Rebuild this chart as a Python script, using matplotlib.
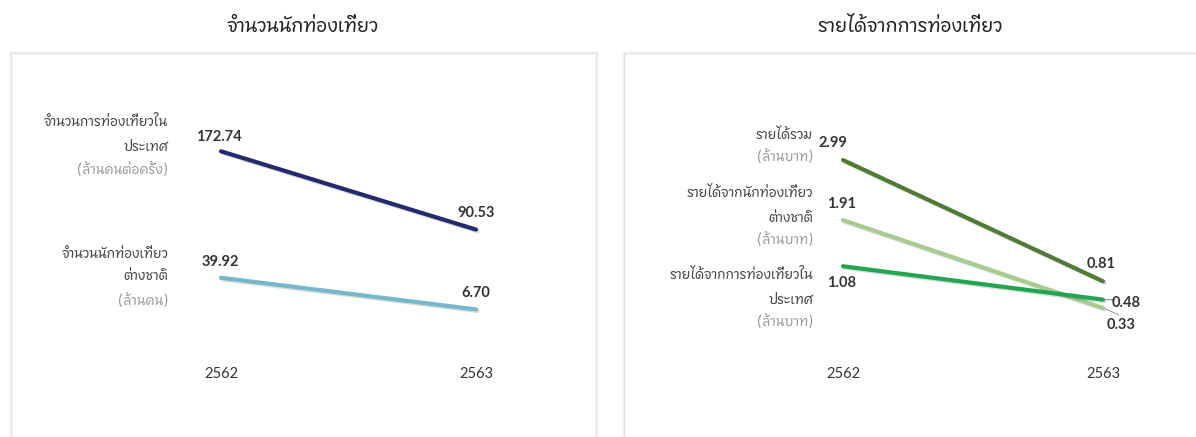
import matplotlib
matplotlib.use("Agg")
import matplotlib.pyplot as plt
from matplotlib import font_manager
from matplotlib.ft2font import FT2Font
from matplotlib.patches import Rectangle
import matplotlib.patheffects as pe

# ---------------- data ----------------
years = ["2562", "2563"]

left_title = "จำนวนนักท่องเที่ยว"
left_series = [
    ["จำนวนการท่องเที่ยวใน", "ประเทศ"],
    ["จำนวนนักท่องเที่ยว", "ต่างชาติ"],
]
left_units = ["(ล้านคนต่อครั้ง)", "(ล้านคน)"]
left_values = [[172.74, 90.53], [39.92, 6.70]]
left_colors = ["#232b6e", "#78b6cd"]

right_title = "รายได้จากการท่องเที่ยว"
right_series = [
    ["รายได้รวม"],
    ["รายได้จากนักท่องเที่ยว", "ต่างชาติ"],
    ["รายได้จากการท่องเที่ยวใน", "ประเทศ"],
]
right_units = ["(ล้านบาท)", "(ล้านบาท)", "(ล้านบาท)"]
right_values = [[2.99, 0.81], [1.91, 0.33], [1.08, 0.48]]
right_colors = ["#4f7c35", "#a8cc8f", "#22a552"]


# ---------------- fonts ----------------
def find_thai_font():
    cands = []
    for f in font_manager.fontManager.ttflist:
        try:
            cm = FT2Font(f.fname).get_charmap()
        except Exception:
            continue
        if 0x0E08 in cm and 0x0E33 in cm and 0x0E48 in cm:
            score = 0
            if "sans" in f.name.lower():
                score += 2
            if f.style == "normal":
                score += 1
            cands.append((score, f.name))
    if cands:
        cands.sort(reverse=True)
        return cands[0][1]
    return None


thai = find_thai_font()
FAM = [thai, "DejaVu Sans"] if thai else ["DejaVu Sans"]
plt.rcParams["font.family"] = FAM
NUMFAM = ["Lato", "DejaVu Sans"]

W, H = 1196, 437
DPI = 100
fig = plt.figure(figsize=(W / DPI, H / DPI), dpi=DPI)
fig.patch.set_facecolor("white")


def fx(px):
    return px / W


def fy(py):
    return 1 - py / H


def add_box(x0, x1, y0, y1):
    # soft shadow
    for i, a in enumerate([0.035, 0.02]):
        d = i + 1
        fig.patches.append(Rectangle((fx(x0 - d), fy(y1)), fx(x1 - x0 + 2 * d), (y1 - y0 + d) / H,
                                     transform=fig.transFigure, facecolor="none",
                                     edgecolor=(0, 0, 0, a), linewidth=1.0, zorder=-3))
    fig.patches.append(Rectangle((fx(x0), fy(y1)), fx(x1 - x0), (y1 - y0) / H,
                                 transform=fig.transFigure, facecolor="white",
                                 edgecolor="#e2e2e2", linewidth=1.0, zorder=-2))


add_box(11, 596, 53, 460)
add_box(624, 1230, 53, 460)

fig.text(fx(303), fy(27), left_title, ha="center", va="center", fontsize=13.5,
         fontweight="semibold", color="#222222")
fig.text(fx(910), fy(27), right_title, ha="center", va="center", fontsize=13.5,
         fontweight="semibold", color="#222222")


def make_axes(x0, x1, y0, y1, xpos0, xpos1, ya, yb):
    ax = fig.add_axes([fx(x0), fy(y1), fx(x1 - x0), (y1 - y0) / H])
    ax.set_zorder(2)
    ax.patch.set_visible(False)
    span = xpos1 - xpos0
    ax.set_xlim((x0 - xpos0) / span, (x1 - xpos0) / span)
    # y_px = ya - yb * v
    ax.set_ylim((ya - y1) / yb, (ya - y0) / yb)
    for s in ax.spines.values():
        s.set_visible(False)
    ax.set_yticks([])
    ax.set_xticks([0, 1])
    ax.set_xticklabels(years, fontsize=10.5, color="#333333", family=NUMFAM)
    ax.tick_params(axis="x", length=0, pad=5)
    return ax


shadow = [pe.SimpleLineShadow(offset=(1.2, -1.2), alpha=0.2, shadow_color="#555555"), pe.Normal()]


def draw(ax, values, colors, series, units, num_offsets, lab_x, lab_offsets):
    for i, (vals, c) in enumerate(zip(values, colors)):
        ax.plot([0, 1], vals, color=c, lw=3.0, solid_capstyle="round", path_effects=shadow, zorder=3)
        for j in range(2):
            dx, dy = num_offsets[i][j]
            ax.annotate(f"{vals[j]:.2f}", xy=(j, vals[j]), xytext=(dx, dy), textcoords="offset pixels",
                        ha="center", va="center", fontsize=10.5, fontweight="bold", color="#333333",
                        family=NUMFAM, zorder=5)
        lines = series[i] + [units[i]]
        for k, t in enumerate(lines):
            col = "#9a9a9a" if k == len(lines) - 1 else "#444444"
            ax.annotate(t, xy=(0, vals[0]), xytext=(lab_x, lab_offsets[i][k]), textcoords="offset pixels",
                        ha="right", va="center", fontsize=9.5, color=col, zorder=5)


axL = make_axes(11, 596, 53, 360, 221, 476, 315.8, 0.9524)
draw(axL, left_values, left_colors, left_series, left_units,
     num_offsets=[[(-2, 14), (0, 17)], [(-1, 16), (0, 16)]],
     lab_x=-53,
     lab_offsets=[[29, 4, -19], [23, 1, -24]])

axR = make_axes(624, 1196, 53, 360, 843, 1103, 326.3, 55.6)
draw(axR, right_values, right_colors, right_series, right_units,
     num_offsets=[[(-10, 17), (-2, 17)], [(-1, 16), (18, -17)], [(-1, -17), (23, -3)]],
     lab_x=-30,
     lab_offsets=[[25, 3], [27, 2, -20], [-9, -34, -56]])

# leader lines for crowded end labels
axR.annotate("", xy=(1, right_values[2][1]), xytext=(12, 0), textcoords="offset pixels",
             arrowprops=dict(arrowstyle="-", color="#888888", lw=0.8, shrinkA=0, shrinkB=2))
axR.annotate("", xy=(1, right_values[1][1]), xytext=(16, -7), textcoords="offset pixels",
             arrowprops=dict(arrowstyle="-", color="#888888", lw=0.6, shrinkA=0, shrinkB=2))

fig.savefig("out.png", dpi=DPI, facecolor="white")
